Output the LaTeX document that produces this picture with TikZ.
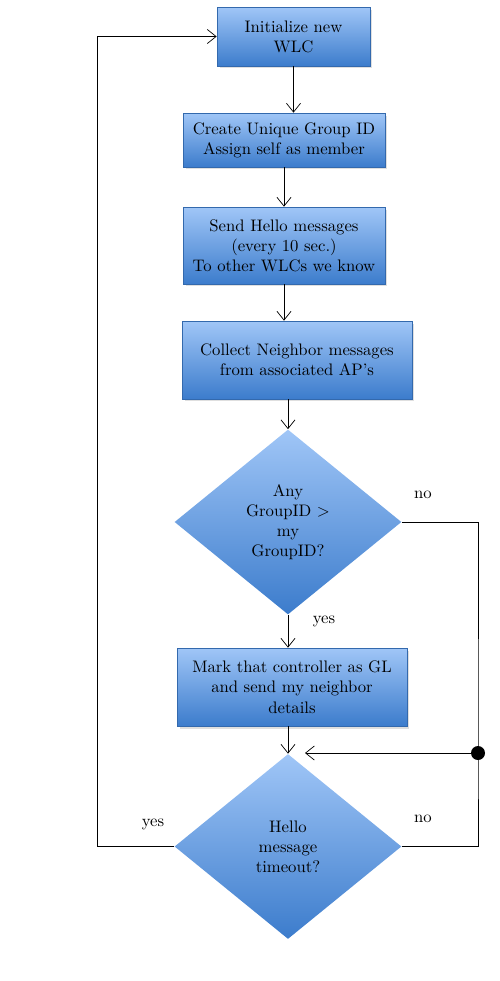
\documentclass[tikz,border=0pt]{standalone}
\usepackage{tikz}
\usetikzlibrary{arrows.meta, positioning, calc, shapes.geometric, shadows}
\definecolor{boxtop}{RGB}{160,198,247}
\definecolor{boxbot}{RGB}{60,124,204}
\tikzset{
    stepbox/.style={rectangle, draw=boxbot!85!black, thin, top color=boxtop, bottom color=boxbot,
        align=center, inner sep=2pt, font=\fontsize{9.5}{11.5}\selectfont,
        drop shadow={opacity=0.25, shadow xshift=0.05cm, shadow yshift=-0.05cm}},
    decision/.style={diamond, top color=boxtop, bottom color=boxbot, align=center, inner sep=0pt,
        minimum width=4.54cm, minimum height=3.7cm, aspect=1.23, font=\fontsize{9.5}{11.5}\selectfont},
    flow/.style={-{Straight Barb[length=5pt,width=8pt]}, thin},
    tag/.style={font=\fontsize{9.5}{11.5}\selectfont},
    junction/.style={fill, circle, inner sep=0pt, minimum size=0.28cm}
}

\begin{document}
\begin{tikzpicture}[x=0.02cm, y=-0.02cm]
    \useasboundingbox (0,0) rectangle (500,981);
    % Steps
    \node[stepbox, minimum width=3.06cm, minimum height=1.18cm] (init) at (293.5,36.5) {Initialize new\\WLC};
    \node[stepbox, minimum width=4.04cm, minimum height=1.08cm] (create) at (284,140) {Create Unique Group ID\\Assign self as member};
    \node[stepbox, minimum width=4.04cm, minimum height=1.54cm] (hello) at (284,245.5) {Send Hello messages\\(every 10 sec.)\\To other WLCs we know};
    \node[stepbox, minimum width=4.6cm, minimum height=1.56cm] (collect) at (297,360) {Collect Neighbor messages\\from associated AP's};
    \node[decision] (bigger) at (288,522) {Any\\GroupID >\\my\\GroupID?};
    \node[stepbox, minimum width=4.6cm, minimum height=1.56cm] (mark) at (292,687) {Mark that controller as GL\\and send my neighbor\\details};
    \node[decision] (timeout) at (288,846.5) {Hello\\message\\timeout?};
    % Main flow
    \draw[flow] (init.south) -- (init.south |- create.north);
    \draw[flow] (create.south) -- (create.south |- hello.north);
    \draw[flow] (hello.south) -- (hello.south |- collect.north);
    \draw[flow] (collect.south -| bigger.north) -- (bigger.north);
    \draw[flow] (bigger.south) -- (bigger.south |- mark.north);
    \draw[flow] (mark.south -| timeout.north) -- (timeout.north);
    % Loop back to start
    \draw[flow] (timeout.west) -- ++(-77,0) |- (init.west);
    % No branches
    \coordinate (merge) at (478,753);
    \coordinate (rejoin) at (305,753);
    \draw (bigger.east) -| (merge) |- (timeout.east);
    \draw[flow] (merge) -- (rejoin);
    \node[junction] (dot) at (merge) {};
    % Labels
    \node[tag] (no1) at (423,495) {no};
    \node[tag] (yes1) at (324,621) {yes};
    \node[tag] (yes2) at (153,824) {yes};
    \node[tag] (no2) at (423,819) {no};
\end{tikzpicture}
\end{document}
